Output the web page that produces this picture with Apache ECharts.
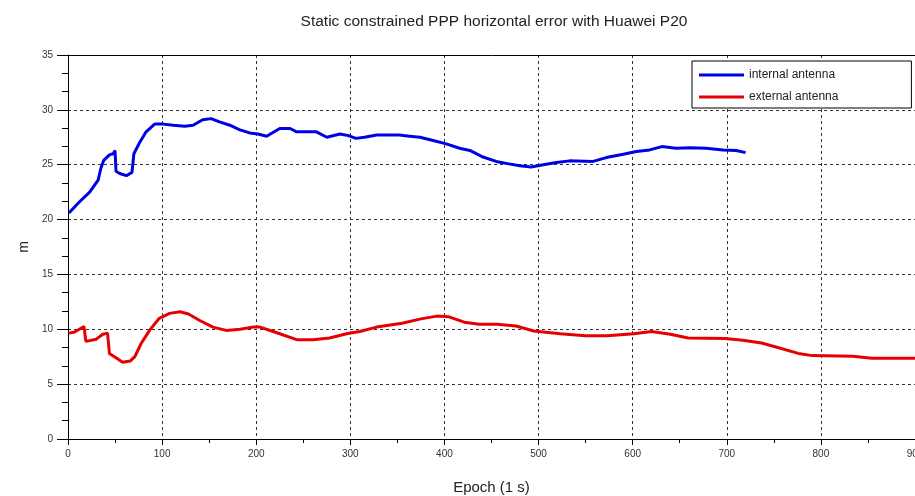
<!DOCTYPE html>
<html>
<head>
<meta charset="utf-8">
<title>Static constrained PPP horizontal error with Huawei P20</title>
<script src="https://cdn.jsdelivr.net/npm/echarts@6/dist/echarts.min.js"></script>
<style>
  html, body { margin: 0; padding: 0; background: #fff; }
  #chart { width: 915px; height: 496px; }
</style>
</head>
<body>
<div id="chart"></div>
<script>
// Horizontal error (m) per epoch, internal antenna
const internalEpoch = [1, 12, 23, 32, 35, 38, 44, 48, 50, 51, 55, 62, 68, 70, 76, 83, 92, 101, 112, 124, 133, 143, 152, 161, 172, 182, 193, 202, 211, 225, 236, 243, 264, 275, 289, 298, 306, 315, 328, 352, 363, 374, 388, 402, 416, 427, 441, 455, 467, 480, 492, 505, 519, 533, 558, 572, 590, 604, 618, 631, 646, 661, 678, 696, 710, 720];
const internalError = [20.6, 21.6, 22.5, 23.6, 24.7, 25.4, 25.9, 26.0, 26.3, 24.4, 24.2, 24.0, 24.3, 26.0, 27.0, 28.0, 28.7, 28.7, 28.6, 28.5, 28.6, 29.1, 29.2, 28.9, 28.6, 28.2, 27.9, 27.8, 27.6, 28.3, 28.3, 28.0, 28.0, 27.5, 27.8, 27.65, 27.4, 27.5, 27.7, 27.7, 27.6, 27.5, 27.2, 26.9, 26.5, 26.3, 25.7, 25.3, 25.1, 24.9, 24.8, 25.0, 25.2, 25.35, 25.3, 25.65, 25.95, 26.2, 26.35, 26.65, 26.5, 26.55, 26.5, 26.35, 26.3, 26.1];

// Horizontal error (m) per epoch, external antenna
const externalEpoch = [1, 7, 12, 17, 19, 21, 30, 37, 42, 44, 51, 58, 66, 71, 78, 87, 97, 108, 119, 128, 140, 154, 168, 183, 197, 204, 218, 243, 260, 278, 296, 310, 328, 355, 375, 392, 404, 421, 437, 456, 476, 495, 523, 550, 573, 601, 620, 640, 659, 698, 717, 737, 756, 776, 791, 834, 854, 900];
const externalError = [9.65, 9.75, 10.0, 10.25, 8.9, 8.75, 9.1, 9.55, 9.65, 7.8, 7.4, 7.0, 7.1, 7.5, 8.75, 9.95, 11.0, 11.45, 11.6, 11.4, 10.8, 10.2, 9.9, 10.0, 10.2, 10.2, 9.8, 9.05, 9.05, 9.2, 9.6, 9.8, 10.2, 10.55, 10.95, 11.2, 11.15, 10.65, 10.45, 10.45, 10.3, 9.85, 9.6, 9.4, 9.4, 9.6, 9.8, 9.55, 9.2, 9.15, 9.0, 8.75, 8.3, 7.8, 7.6, 7.55, 7.35, 7.35];

const seriesNames = ['internal antenna', 'external antenna'];
const xTicks = { min: 0, max: 900, interval: 100 };
const yTicks = { min: 0, max: 35, interval: 5 };

const pair = (xs, ys) => xs.map((x, i) => [x, ys[i]]);

const FONT = '"Liberation Sans", Arial, sans-serif';
const gridLine = { show: true, lineStyle: { color: '#333', width: 1, type: [3, 3] } };
const axisLine = { show: true, onZero: false, lineStyle: { color: '#000', width: 1 } };

const chart = echarts.init(document.getElementById('chart'), null, { renderer: 'canvas' });
chart.setOption({
  animation: false,
  backgroundColor: '#fff',
  title: {
    text: 'Static constrained PPP horizontal error with Huawei P20',
    left: 489,
    top: 9,
    textAlign: 'center',
    textStyle: { fontFamily: FONT, fontSize: 15.5, fontWeight: 'normal', color: '#222' }
  },
  grid: { left: 68, top: 55, right: 0, bottom: 57, containLabel: false, outerBoundsMode: 'none' },
  legend: {
    data: seriesNames,
    orient: 'vertical',
    left: 692,
    top: 61,
    icon: 'rect',
    itemWidth: 45,
    itemHeight: 3,
    itemGap: 10,
    padding: [8, 73, 5, 7],
    borderColor: '#000',
    borderWidth: 1,
    backgroundColor: '#fff',
    textStyle: { fontFamily: FONT, fontSize: 12, color: '#222' }
  },
  xAxis: [{
    type: 'value',
    position: 'bottom',
    min: xTicks.min, max: xTicks.max, interval: xTicks.interval,
    name: 'Epoch (1 s)',
    nameLocation: 'middle',
    nameGap: 41,
    nameTextStyle: { fontFamily: FONT, fontSize: 15, color: '#222' },
    axisLine: axisLine,
    axisTick: { show: true, inside: false, length: 6, lineStyle: { color: '#000' } },
    minorTick: { show: true, splitNumber: 2, length: 4, lineStyle: { color: '#000' } },
    axisLabel: { margin: 10, fontFamily: FONT, fontSize: 10, color: '#333' },
    splitLine: gridLine
  }, {
    // plain top frame edge
    type: 'value',
    position: 'top',
    min: xTicks.min, max: xTicks.max, interval: xTicks.interval,
    axisLine: axisLine,
    axisTick: { show: false },
    axisLabel: { show: false },
    splitLine: { show: false }
  }],
  yAxis: {
    type: 'value',
    min: yTicks.min, max: yTicks.max, interval: yTicks.interval,
    name: 'm',
    nameLocation: 'middle',
    nameGap: 35,
    nameTextStyle: { fontFamily: FONT, fontSize: 14, color: '#222' },
    axisLine: axisLine,
    axisTick: { show: true, inside: false, length: 11, lineStyle: { color: '#000' } },
    minorTick: { show: true, splitNumber: 3, length: 6, lineStyle: { color: '#000' } },
    axisLabel: { margin: 15, fontFamily: FONT, fontSize: 10, color: '#333' },
    splitLine: gridLine
  },
  series: [{
    name: seriesNames[0],
    type: 'line',
    data: pair(internalEpoch, internalError),
    showSymbol: false,
    symbol: 'none',
    color: '#0000e6',
    lineStyle: { width: 3, color: '#0000e6' },
    z: 3
  }, {
    name: seriesNames[1],
    type: 'line',
    data: pair(externalEpoch, externalError),
    showSymbol: false,
    symbol: 'none',
    color: '#e60000',
    lineStyle: { width: 3, color: '#e60000' },
    z: 3
  }]
});
</script>
</body>
</html>
